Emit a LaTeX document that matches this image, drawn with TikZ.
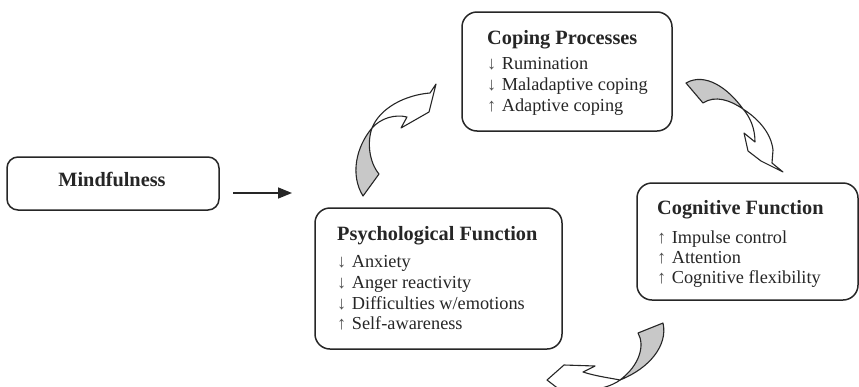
\documentclass[tikz,border=0pt]{standalone}
\usepackage{fontspec}
\setmainfont{Liberation Serif}
\usetikzlibrary{arrows.meta}
\definecolor{ink}{HTML}{262626}
\definecolor{ribbon}{HTML}{C8C8C8}
\tikzset{
  box/.style={draw=ink, line width=1.5pt, rounded corners=15pt, inner sep=0pt},
  ttl/.style={anchor=base west, inner sep=0pt, text=ink, text height=13pt, text depth=4pt, font=\fontsize{20.3}{23}\selectfont\bfseries},
  itm/.style={anchor=base west, inner sep=0pt, text=ink, text height=12.5pt, text depth=4pt, font=\fontsize{18.3}{21}\selectfont},
  ribfront/.style={draw=ink, line width=1.1pt, line join=round, fill=white},
  ribback/.style={draw=ink, line width=1.1pt, line join=round, fill=ribbon},
}
\newcommand{\dn}{{\color{ink!80}↓}\hspace{0.3em}}
\newcommand{\up}{{\color{ink!80}↑}\hspace{0.3em}}
\begin{document}
\begin{tikzpicture}[x=1pt,y=-1pt]
\clip (0,0) rectangle (859,386);
\fill[white] (0,0) rectangle (859,386);

% boxes
\node[box, rounded corners=11pt, minimum width=212pt, minimum height=53pt] (mind) at (113,183.5) {};
\node[box, minimum width=210pt, minimum height=119pt] (coping) at (567,71.5) {};
\node[box, minimum width=221pt, minimum height=117pt] (cogn) at (747.5,241.5) {};
\node[box, minimum width=247pt, minimum height=141pt] (psych) at (438.5,278.5) {};

% texts
\node[ttl, anchor=base] (tmind) at (112,186) {Mindfulness};

\node[ttl] (tcop) at (487,44) {Coping Processes};
\node[itm] (c1) at (487,69.5) {\dn Rumination};
\node[itm] (c2) at (487,90.5) {\dn Maladaptive coping};
\node[itm] (c3) at (487,111.5) {\up Adaptive coping};

\node[ttl] (tcog) at (657,214) {Cognitive Function};
\node[itm] (g1) at (657,243.5) {\up Impulse control};
\node[itm] (g2) at (657,263.5) {\up Attention};
\node[itm] (g3) at (657,283.5) {\up Cognitive flexibility};

\node[ttl] (tpsy) at (337,240) {Psychological Function};
\node[itm] (p1) at (337,267) {\dn Anxiety};
\node[itm] (p2) at (337,288) {\dn Anger reactivity};
\node[itm] (p3) at (337,309) {\dn Difficulties w/emotions};
\node[itm] (p4) at (337,329.5) {\up Self-awareness};

% straight arrow
\coordinate (a1) at (233,193);
\coordinate (a2) at (292,193);
\draw[draw=ink, line width=1.5pt, -{Triangle[length=14pt,width=11pt]}] (a1) -- (a2);

% curved arrow 1 (psych -> coping)
\draw[ribfront] (372,128) .. controls (380,108) and (405,95) .. (430,93) -- (436,84) -- (429,112) -- (401,128) -- (407,117) .. controls (395,114) and (381,118) .. (372,128) -- cycle;
\draw[ribback] (372,128) .. controls (356,147) and (350,175) .. (363,196) -- (379,174) .. controls (369,162) and (367,142) .. (372,128) -- cycle;

% curved arrow 2 (coping -> cognitive)
\draw[ribfront] (743,109) .. controls (750,117) and (755,128) .. (755,142) -- (744,133) -- (748,151) -- (761,161) -- (783,172) -- (772,163) -- (773,150) .. controls (771,132) and (757,118) .. (743,109) -- cycle;
\draw[ribback] (686,83) .. controls (705,72) and (728,88) .. (743,109) .. controls (730,100) and (715,95) .. (703,103) -- cycle;

% curved arrow 3 (cognitive -> psych)
\draw[ribfront] (620,380) .. controls (612,386) and (600,389) .. (590,390) -- (560,390) -- (547,380) -- (564,365) -- (595,366) -- (583,372) .. controls (595,376) and (610,378) .. (620,380) -- cycle;
\draw[ribback] (663,323) .. controls (668,345) and (650,368) .. (620,380) .. controls (640,365) and (645,345) .. (638,333) -- cycle;
\end{tikzpicture}
\end{document}
